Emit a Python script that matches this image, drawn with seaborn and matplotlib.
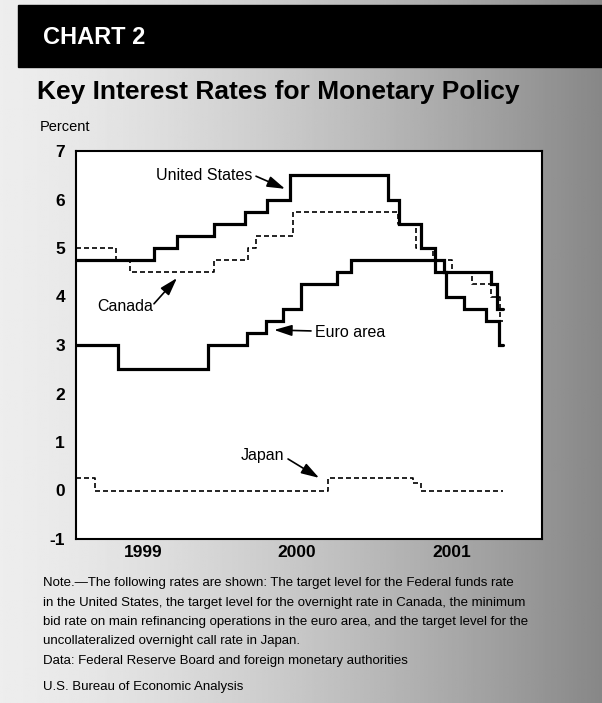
import numpy as np
import pandas as pd
import matplotlib
matplotlib.use("Agg")
import matplotlib.pyplot as plt
from matplotlib.patches import Rectangle
import seaborn as sns

# step series: start of each rate level (decimal years) and the level, last point = end of data
us_time = [1999.00, 1999.50, 1999.65, 1999.89, 2000.09, 2000.23, 2000.38, 2001.01,
           2001.08, 2001.22, 2001.31, 2001.38, 2001.50, 2001.64, 2001.72, 2001.75]
us_rate = [4.75, 5.0, 5.25, 5.5, 5.75, 6.0, 6.5, 6.0,
           5.5, 5.0, 4.5, 4.0, 3.75, 3.5, 3.0, 3.0]

canada_time = [1999.00, 1999.26, 1999.35, 1999.89, 2000.11, 2000.16, 2000.40, 2001.07,
               2001.19, 2001.30, 2001.42, 2001.55, 2001.67, 2001.73, 2001.75]
canada_rate = [5.0, 4.75, 4.5, 4.75, 5.0, 5.25, 5.75, 5.5,
               5.0, 4.75, 4.5, 4.25, 4.0, 3.5, 3.5]

euro_time = [1999.00, 1999.27, 1999.85, 2000.10, 2000.22, 2000.33, 2000.45, 2000.68,
             2000.77, 2001.37, 2001.67, 2001.71, 2001.75]
euro_rate = [3.0, 2.5, 3.0, 3.25, 3.5, 3.75, 4.25, 4.5,
             4.75, 4.5, 4.25, 3.75, 3.75]

japan_time = [1999.00, 1999.12, 2000.62, 2001.17, 2001.22, 2001.75]
japan_rate = [0.25, 0.0, 0.25, 0.15, 0.0, 0.0]

year_labels = ["1999", "2000", "2001"]
y_ticks = [-1, 0, 1, 2, 3, 4, 5, 6, 7]

note_lines = [
    "Note.\u2014The following rates are shown: The target level for the Federal funds rate",
    "in the United States, the target level for the overnight rate in Canada, the minimum",
    "bid rate on main refinancing operations in the euro area, and the target level for the",
    "uncollateralized overnight call rate in Japan.",
    "Data: Federal Reserve Board and foreign monetary authorities",
]

frames = []
for name, t, r in [("United States", us_time, us_rate), ("Canada", canada_time, canada_rate),
                   ("Euro area", euro_time, euro_rate), ("Japan", japan_time, japan_rate)]:
    frames.append(pd.DataFrame({"country": name, "time": t, "rate": r}))
df = pd.concat(frames, ignore_index=True)

sns.set_style("white")
plt.rcParams["font.family"] = ["Liberation Sans", "DejaVu Sans"]
plt.rcParams.update({"text.color": "black", "xtick.color": "black",
                     "ytick.color": "black", "axes.labelcolor": "black"})

W, H = 602, 703
fig = plt.figure(figsize=(W / 100, H / 100), dpi=100)

# scanned grey background: light on the left, darker to the right
bg = fig.add_axes([0, 0, 1, 1])
xx = np.linspace(0, 1, 300)
shade = 0.93 - 0.40 * xx ** 1.4
bg.imshow(np.tile(shade, (10, 1)), extent=[0, 1, 0, 1], aspect="auto",
          cmap="gray", vmin=0, vmax=1)
bg.axis("off")

# black header band
fig.patches.append(Rectangle((18 / W, 1 - 67 / H), 1 - 18 / W, 62 / H,
                             transform=fig.transFigure, color="black", zorder=1))
fig.text(43 / W, 1 - 37 / H, "CHART 2", color="white", fontsize=17,
         fontweight="bold", va="center", ha="left")
fig.text(37 / W, 1 - 92 / H, "Key Interest Rates for Monetary Policy",
         fontsize=19, fontweight="bold", va="center", ha="left")
fig.text(40 / W, 1 - 127 / H, "Percent", fontsize=10.5, va="center", ha="left")

ax = fig.add_axes([76 / W, 1 - 539 / H, 466 / W, 388 / H])
ax.set_facecolor("white")

styles = {
    "United States": dict(lw=2.3, linestyle="-"),
    "Euro area": dict(lw=2.3, linestyle="-"),
    "Canada": dict(lw=1.2, linestyle=(0, (3, 1.8))),
    "Japan": dict(lw=1.2, linestyle=(0, (3, 1.8))),
}
for name, st in styles.items():
    sns.lineplot(data=df[df["country"] == name], x="time", y="rate", ax=ax,
                 color="black", drawstyle="steps-post", estimator=None,
                 solid_joinstyle="miter", **st)

ax.set_xlim(1999, 2002)
ax.set_ylim(-1, 7)
ax.set_xlabel("")
ax.set_ylabel("")

ax.set_yticks(y_ticks)
ax.set_yticklabels([str(v) for v in y_ticks], fontsize=12.5, fontweight="bold")
ax.tick_params(axis="y", length=0, pad=8)

ax.set_xticks([2000, 2001])
ax.set_xticklabels([])
ax.tick_params(axis="x", which="major", direction="in", length=12, width=1, color="black")
ax.set_xticks([1999.43, 2000.42, 2001.42], minor=True)
ax.set_xticklabels(year_labels, minor=True, fontsize=12.5, fontweight="bold")
ax.tick_params(axis="x", which="minor", length=0, pad=4)

for sp in ax.spines.values():
    sp.set_visible(True)
    sp.set_color("black")
    sp.set_linewidth(1.5)

# labels with arrows
arrow = dict(arrowstyle="-|>,head_length=0.9,head_width=0.28", color="black",
             lw=1.2, mutation_scale=12, shrinkA=0, shrinkB=0)
lab = dict(fontsize=11.5, va="center")
ax.text(1999.824, 6.50, "United States", ha="center", **lab)
ax.annotate("", xy=(2000.346, 6.22), xytext=(2000.159, 6.48), arrowprops=arrow)
ax.text(1999.316, 3.80, "Canada", ha="center", **lab)
ax.annotate("", xy=(1999.650, 4.38), xytext=(1999.502, 3.85), arrowprops=arrow)
ax.text(2000.539, 3.25, "Euro area", ha="left", **lab)
ax.annotate("", xy=(2000.275, 3.31), xytext=(2000.513, 3.29), arrowprops=arrow)
ax.text(2000.198, 0.73, "Japan", ha="center", **lab)
ax.annotate("", xy=(2000.565, 0.26), xytext=(2000.365, 0.65), arrowprops=arrow)

for line, y in zip(note_lines, [583, 603, 622, 641, 661]):
    fig.text(43 / W, 1 - y / H, line, fontsize=9.5, va="center", ha="left")
fig.text(43 / W, 1 - 687 / H, "U.S. Bureau of Economic Analysis",
         fontsize=9.5, va="center", ha="left")

fig.savefig("out.png", dpi=100)
plt.close(fig)
